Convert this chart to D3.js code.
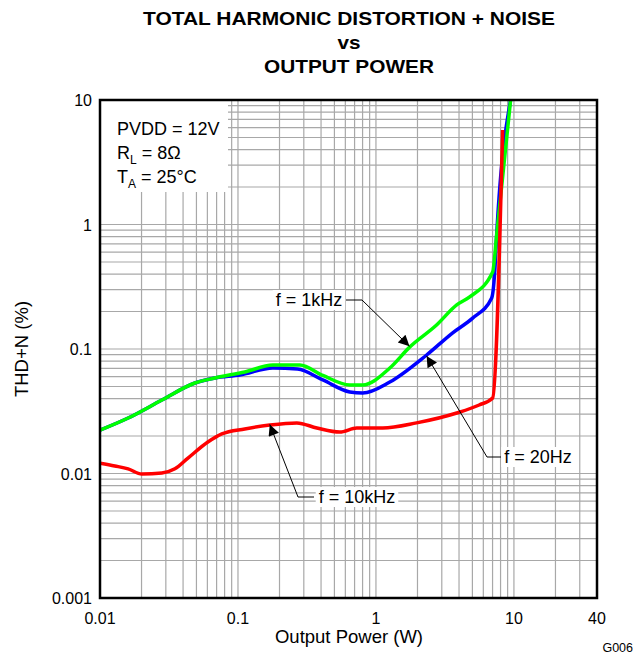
<!DOCTYPE html>
<html>
<head>
<meta charset="utf-8">
<script src="https://cdn.jsdelivr.net/npm/d3@7"></script>
<style>
  body { margin: 0; background: #fff; }
  text { font-family: "Liberation Sans", Arial, sans-serif; }
</style>
</head>
<body>
<svg></svg>
<script>
const margin = {t: 100, r: 40, b: 58, l: 100};
const size = {w: 637, h: 656};
const svg = d3.select('svg');

svg.attr('width', size.w)
    .attr('height', size.h);

// curve data (power in W, THD+N in %)
const pow1k = [0.01, 0.016, 0.0281, 0.0487, 0.068, 0.112, 0.179, 0.281, 0.412, 0.646, 0.802, 1.26, 1.76, 2.75, 3.85, 4.78, 7.01, 7.5, 9.46];
const thd1k = [0.0223, 0.0279, 0.0389, 0.0533, 0.0585, 0.0654, 0.0743, 0.0743, 0.0613, 0.0514, 0.0514, 0.0703, 0.104, 0.156, 0.226, 0.262, 0.415, 0.83, 10];

const pow20 = [0.01, 0.016, 0.0281, 0.0487, 0.068, 0.103, 0.179, 0.27, 0.412, 0.646, 0.802, 1.26, 2.33, 3.6, 5.02, 6.9, 7.25, 7.5, 9.46];
const thd20 = [0.0223, 0.0279, 0.0389, 0.0533, 0.0585, 0.0618, 0.0703, 0.069, 0.0564, 0.0452, 0.0443, 0.0543, 0.0895, 0.135, 0.177, 0.257, 0.408, 0.83, 10];

const pow10k = [0.01, 0.0128, 0.016, 0.0201, 0.0281, 0.0349, 0.0434, 0.0605, 0.0764, 0.112, 0.170, 0.267, 0.373, 0.547, 0.726, 1.12, 1.97, 3.85, 5.6, 7.01, 8.28];
const thd10k = [0.0121, 0.0115, 0.0109, 0.0099, 0.0101, 0.0109, 0.0133, 0.0179, 0.0208, 0.0228, 0.0245, 0.0255, 0.0232, 0.0215, 0.0232, 0.0232, 0.0255, 0.0306, 0.0355, 0.0404, 5.74];

const xTicks = [0.01, 0.1, 1, 10, 40];
const xTickLabels = ['0.01', '0.1', '1', '10', '40'];
const yTicks = [0.001, 0.01, 0.1, 1, 10];
const yTickLabels = ['0.001', '0.01', '0.1', '1', '10'];
const conditions = ['PVDD = 12V', 'R|L| = 8Ω', 'T|A| = 25°C'];

const pw = size.w - margin.l - margin.r;
const ph = size.h - margin.t - margin.b;

const x = d3.scaleLog().domain([0.01, 40]).range([0, pw]);
const y = d3.scaleLog().domain([0.001, 10]).range([ph, 0]);

// title (widths measured on the reference)
const title = ['TOTAL HARMONIC DISTORTION + NOISE', 'vs', 'OUTPUT POWER'];
const titleWidths = [412, 23, 170];
svg.selectAll('text.title')
    .data(title)
    .enter()
    .append('text')
    .attr('x', 349)
    .attr('y', (d, i) => 25 + i * 24)
    .attr('text-anchor', 'middle')
    .attr('textLength', (d, i) => titleWidths[i])
    .attr('lengthAdjust', 'spacingAndGlyphs')
    .style('font-weight', 'bold')
    .style('font-size', '18.5px')
    .text(d => d);

const g = svg.append('g')
    .attr('transform', 'translate(' + margin.l + ',' + margin.t + ')');

// grid lines: 1..9 in each decade
let xGrid = [];
for (let e = -2; e <= 1; e++) {
    for (let m = 1; m <= 9; m++) {
        let v = m * Math.pow(10, e);
        if (v > 0.01 && v < 40) xGrid.push(v);
    }
}
let yGrid = [];
for (let e = -3; e <= 0; e++) {
    for (let m = 1; m <= 9; m++) {
        let v = m * Math.pow(10, e);
        if (v > 0.001 && v < 10) yGrid.push(v);
    }
}

g.selectAll('line.xg')
    .data(xGrid)
    .enter()
    .append('line')
    .attr('x1', d => x(d)).attr('x2', d => x(d))
    .attr('y1', 0).attr('y2', ph)
    .attr('stroke', '#a8a8a8')
    .attr('stroke-width', 1.2);

g.selectAll('line.yg')
    .data(yGrid)
    .enter()
    .append('line')
    .attr('y1', d => y(d)).attr('y2', d => y(d))
    .attr('x1', 0).attr('x2', pw)
    .attr('stroke', '#a8a8a8')
    .attr('stroke-width', 1.2);

// condition box
g.append('rect')
    .attr('x', 1).attr('y', 1)
    .attr('width', 127).attr('height', 91)
    .attr('fill', '#fff');

const cond = g.append('text')
    .style('font-size', '18px');
conditions.forEach(function (c, i) {
    let parts = c.split('|');
    cond.append('tspan').attr('x', 17).attr('y', 35 + i * 24).text(parts[0]);
    if (parts.length > 1) {
        cond.append('tspan').attr('dy', 5).style('font-size', '12px').text(parts[1]);
        cond.append('tspan').attr('dy', -5).text(parts[2]);
    }
});

// curves
const line = d3.line()
    .x(d => x(d[0]))
    .y(d => y(d[1]))
    .curve(d3.curveMonotoneX);

const series = [
    {p: pow20, t: thd20, c: '#0000ff'},
    {p: pow1k, t: thd1k, c: '#00ff00'},
    {p: pow10k, t: thd10k, c: '#ff0000'}
];

g.append('clipPath').attr('id', 'clip')
    .append('rect').attr('width', pw).attr('height', ph);

series.forEach(function (s) {
    g.append('path')
        .datum(s.p.map((v, i) => [v, s.t[i]]))
        .attr('d', line)
        .attr('clip-path', 'url(#clip)')
        .attr('fill', 'none')
        .attr('stroke', s.c)
        .attr('stroke-width', 3.5)
        .attr('stroke-linejoin', 'round');
});

// annotations
svg.append('defs').append('marker')
    .attr('id', 'arrow')
    .attr('viewBox', '0 0 10 10')
    .attr('refX', 10).attr('refY', 5)
    .attr('markerWidth', 15).attr('markerHeight', 11)
    .attr('markerUnits', 'userSpaceOnUse')
    .attr('orient', 'auto')
    .append('path')
    .attr('d', 'M0,0L10,5L0,10Z')
    .attr('fill', '#000');

const notes = [
    {label: 'f = 1kHz', tip: [1.75, 0.105], elbow: [362, 300], end: [346, 300], tx: 309},
    {label: 'f = 20Hz', tip: [2.33, 0.088], elbow: [487, 457], end: [501, 457], tx: 538},
    {label: 'f = 10kHz', tip: [0.17, 0.0248], elbow: [298, 497], end: [314, 497], tx: 357}
];

notes.forEach(function (n) {
    let ng = svg.append('g');
    let bg = ng.append('rect').attr('fill', '#fff');
    let txt = ng.append('text')
        .attr('x', n.tx)
        .attr('y', n.elbow[1] + 6)
        .attr('text-anchor', 'middle')
        .style('font-size', '18px')
        .text(n.label);
    let bb = txt.node().getBBox();
    bg.attr('x', bb.x - 3).attr('y', bb.y)
        .attr('width', bb.width + 6).attr('height', bb.height);
    let tx = x(n.tip[0]) + margin.l, ty = y(n.tip[1]) + margin.t;
    ng.append('path')
        .attr('d', 'M' + n.end[0] + ',' + n.end[1] + 'L' + n.elbow[0] + ',' + n.elbow[1] + 'L' + tx + ',' + ty)
        .attr('fill', 'none')
        .attr('stroke', '#000')
        .attr('stroke-width', 1)
        .attr('marker-end', 'url(#arrow)');
});

// frame
g.append('rect')
    .attr('width', pw).attr('height', ph)
    .attr('fill', 'none')
    .attr('stroke', '#000')
    .attr('stroke-width', 2.5);

// tick labels
g.selectAll('text.xt')
    .data(xTicks)
    .enter()
    .append('text')
    .attr('x', d => x(d))
    .attr('y', ph + 26)
    .attr('text-anchor', 'middle')
    .style('font-size', '16px')
    .text((d, i) => xTickLabels[i]);

g.selectAll('text.yt')
    .data(yTicks)
    .enter()
    .append('text')
    .attr('x', -8)
    .attr('y', d => y(d) + 6)
    .attr('text-anchor', 'end')
    .style('font-size', '16px')
    .text((d, i) => yTickLabels[i]);

// axis titles
svg.append('text')
    .attr('x', 349).attr('y', 643)
    .attr('text-anchor', 'middle')
    .style('font-size', '18.5px')
    .text('Output Power (W)');

svg.append('text')
    .attr('transform', 'translate(28,349) rotate(-90)')
    .attr('text-anchor', 'middle')
    .style('font-size', '18.5px')
    .text('THD+N (%)');

svg.append('text')
    .attr('x', 633).attr('y', 652)
    .attr('text-anchor', 'end')
    .style('font-size', '12.5px')
    .text('G006');
</script>
</body>
</html>
